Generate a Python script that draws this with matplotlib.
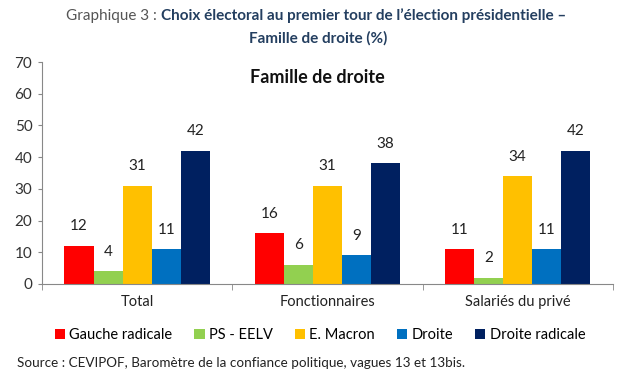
import numpy as np
import matplotlib.pyplot as plt

plt.rcParams['font.family'] = ['Lato', 'DejaVu Sans']

# %% data
categories = ['Total', 'Fonctionnaires', 'Salariés du privé']
series = ['Gauche radicale', 'PS - EELV', 'E. Macron', 'Droite', 'Droite radicale']
values = {
    'Gauche radicale': [12, 16, 11],
    'PS - EELV': [4, 6, 2],
    'E. Macron': [31, 31, 34],
    'Droite': [11, 9, 11],
    'Droite radicale': [42, 38, 42],
}
colors = ['#FF0000', '#92D050', '#FFC000', '#0070C0', '#002060']
yticks = [0, 10, 20, 30, 40, 50, 60, 70]

# %% plot
fig = plt.figure(figsize=(6.19, 3.72), dpi=100)
ax = fig.add_axes([0.068, 0.2366, 0.922, 0.5967])

x = np.arange(len(categories))
w = 0.153
for i, (name, c) in enumerate(zip(series, colors)):
    pos = x + (i - 2) * w
    ax.bar(pos, values[name], width=w, color=c, label=name)
    for px, v in zip(pos, values[name]):
        ax.annotate(str(v), (px, v), xytext=(0, 9), textcoords='offset points',
                    ha='center', va='bottom', fontsize=11, color='#222222')

ax.set_xlim(-0.5, len(categories) - 0.5)
ax.set_ylim(0, 70)
ax.set_yticks(yticks)
ax.set_xticks(x)
ax.set_xticklabels(categories, fontsize=10.5, color='#222222')
ax.set_xticks(np.arange(len(categories) + 1) - 0.5, minor=True)
ax.tick_params(axis='x', which='major', length=0, pad=8)
ax.tick_params(axis='x', which='minor', length=4, color='#888888')
ax.tick_params(axis='y', length=3, color='#888888', labelsize=11, labelcolor='#333333', pad=4)
for s in ['top', 'right']:
    ax.spines[s].set_visible(False)
for s in ['left', 'bottom']:
    ax.spines[s].set_color('#888888')

ax.text(0.483, 0.928, 'Famille de droite', transform=ax.transAxes, ha='center', va='center',
        fontsize=13, fontweight='bold', color='#111111')

# titles
fig.text(161 / 619, 0.957, 'Graphique 3 : ', ha='right', va='center', fontsize=11, color='#555555')
fig.text(161 / 619, 0.957, 'Choix électoral au premier tour de l\u2019élection présidentielle \u2013',
         ha='left', va='center', fontsize=11, fontweight='bold', color='#243F60')
fig.text(318 / 619, 0.898, 'Famille de droite (%)', ha='center', va='center',
         fontsize=11, fontweight='bold', color='#243F60')

fig.legend(loc='center', bbox_to_anchor=(320 / 619, 1 - 335 / 372), ncol=5, frameon=False,
           fontsize=10.5, handlelength=0.7, handleheight=0.7, handletextpad=0.3,
           columnspacing=1.5, borderaxespad=0)

fig.text(17 / 619, 1 - 363 / 372, 'Source : CEVIPOF, Baromètre de la confiance politique, vagues 13 et 13bis.',
         ha='left', va='center', fontsize=9.7, color='#222222')

fig.savefig('out.png', dpi=100)
